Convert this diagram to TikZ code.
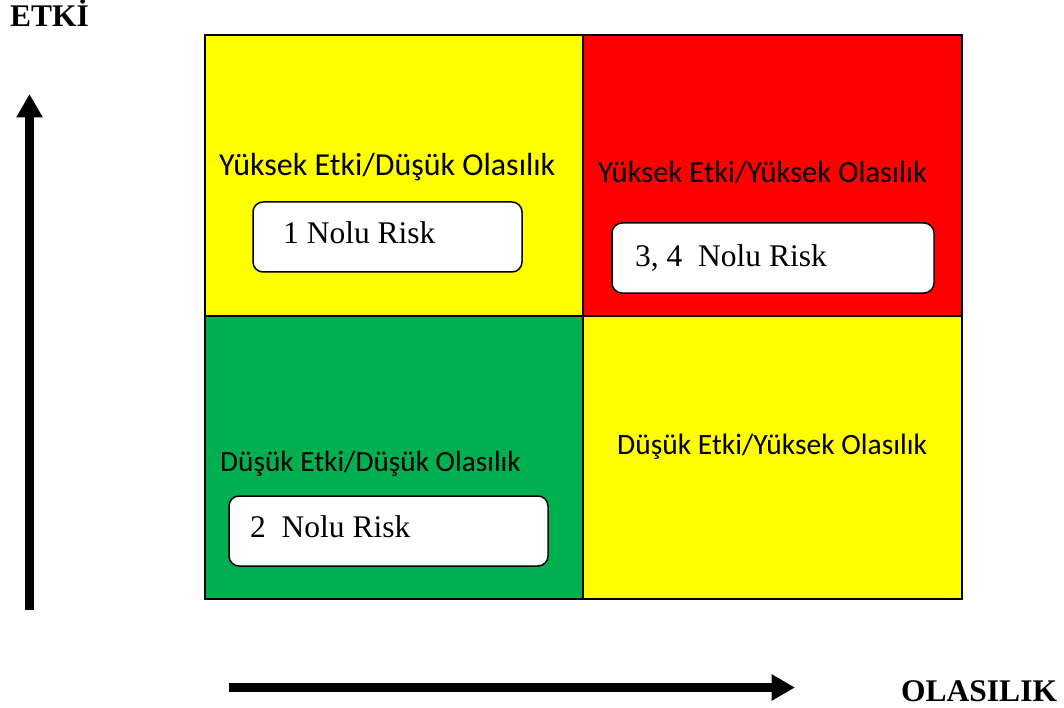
\documentclass[tikz,border=0pt]{standalone}
\usepackage{fontspec}
\setmainfont{Liberation Serif}
\newfontfamily\labelfont{Carlito}
\usetikzlibrary{arrows.meta}

\definecolor{riskyellow}{HTML}{FFFF00}
\definecolor{riskred}{HTML}{FF0000}
\definecolor{riskgreen}{HTML}{00B050}

\tikzset{
  cell/.style={draw=black, line width=2pt},
  zonelabel/.style={anchor=base west, inner sep=0pt, font=\labelfont\fontsize{#1}{36}\selectfont},
  zonelabel/.default=32,
  riskbox/.style={draw=black, fill=white, line width=1.5pt, rounded corners=10pt, inner sep=0pt},
  risktext/.style={anchor=base west, inner sep=0pt, font=\fontsize{31.5}{36}\selectfont},
  axistitle/.style={anchor=base west, inner sep=0pt, font=\bfseries\fontsize{31.5}{36}\selectfont},
  axisarrow/.style={line width=9pt, -{Triangle[length=23.5pt, width=25pt]}}
}

\begin{document}
\begin{tikzpicture}[x=1pt, y=-1pt]
  \useasboundingbox (0,0) rectangle (1064,708);

  % four quadrants of the risk matrix
  \fill[riskyellow] (205,35) rectangle (583,316);
  \fill[riskred]    (583,35) rectangle (962,316);
  \fill[riskgreen]  (205,316) rectangle (583,599);
  \fill[riskyellow] (583,316) rectangle (962,599);
  \draw[cell] (205,35) rectangle (962,599);
  \draw[cell] (583,35) -- (583,599);
  \draw[cell] (205,316) -- (962,316);

  % zone titles
  \node[zonelabel=32]   (zHL) at (219,176) {Yüksek Etki/Düşük Olasılık};
  \node[zonelabel=30.6] (zHH) at (598,183) {Yüksek Etki/Yüksek Olasılık};
  \node[zonelabel=29.3] (zLL) at (220,471) {Düşük Etki/Düşük Olasılık};
  \node[zonelabel=29.5] (zLH) at (617,454) {Düşük Etki/Yüksek Olasılık};

  % risk boxes
  \node[riskbox, minimum width=269pt, minimum height=70pt] (b1)  at (387.5,237) {};
  \node[riskbox, minimum width=322pt, minimum height=70pt] (b34) at (773,258) {};
  \node[riskbox, minimum width=319pt, minimum height=70pt] (b2)  at (388.5,531) {};
  \node[risktext] (t1)  at (283,244) {1 Nolu Risk};
  \node[risktext] (t34) at (635,266) {3, 4\enspace Nolu Risk};
  \node[risktext] (t2)  at (250,537) {2\enspace Nolu Risk};

  % axes
  \coordinate (yFrom) at (29.5,610);
  \coordinate (yTo)   at (29.5,94);
  \coordinate (xFrom) at (229,687.5);
  \coordinate (xTo)   at (795,687.5);
  \draw[axisarrow] (yFrom) -- (yTo);
  \draw[axisarrow] (xFrom) -- (xTo);

  \node[axistitle] (etki) at (10,27) {ETKİ};
  \node[axistitle] (olas) at (901,701) {OLASILIK};
\end{tikzpicture}
\end{document}
